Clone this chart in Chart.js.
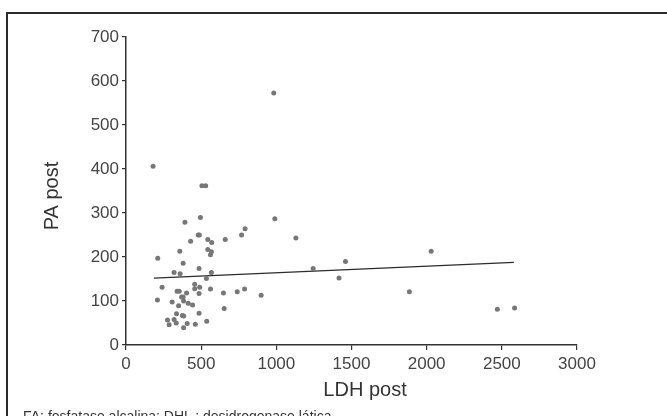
<!DOCTYPE html>
<html>
<head>
<meta charset="utf-8">
<script src="https://cdn.jsdelivr.net/npm/chart.js@4.4.1/dist/chart.umd.min.js"></script>
<style>
  html, body { margin: 0; padding: 0; background: #fff; overflow: hidden; }
  #wrap { position: relative; width: 667px; height: 416px; }
  #frame { position: absolute; left: 6px; top: 12px; width: 700px; height: 440px;
           border-left: 2px solid #2b2b2b; border-top: 2px solid #2b2b2b; }
  #note { position: absolute; left: 23px; top: 408px; white-space: nowrap;
          font: 14px/16px "Liberation Sans", Arial, sans-serif; color: #333; }
  canvas { position: absolute; left: 0; top: 0; }
</style>
</head>
<body>
<div id="wrap">
  <div id="frame"></div>
  <canvas id="chart" width="667" height="416"></canvas>
  <div id="note">FA: fosfatase alcalina; DHL : desidrogenase lática</div>
</div>
<script>
// values (LDH post vs PA post)
const ldhPost = [
  180, 505, 530, 392, 495, 990, 1130, 792, 769, 660,
  480, 488, 430, 544, 570, 358, 544, 568, 562, 211,
  380, 486, 320, 360, 568, 535, 1245, 240, 457, 457,
  490, 340, 354, 403, 486, 562, 648, 740, 789, 899,
  370, 380, 209, 307, 350, 383, 414, 443, 653, 276,
  287, 320, 334, 336, 375, 384, 407, 383, 461, 486,
  537, 983, 1417, 1460, 2030, 1885, 2470, 2585
];
const paPost = [
  406, 362, 362, 279, 290, 287, 243, 264, 250, 240,
  250, 250, 236, 240, 233, 213, 217, 212, 205, 197,
  186, 174, 165, 162, 165, 151, 174, 131, 138, 128,
  131, 122, 122, 118, 117, 127, 118, 121, 127, 113,
  109, 109, 102, 98, 89, 100, 95, 91, 83, 57,
  46, 58, 50, 71, 67, 66, 49, 39, 47, 72,
  54, 573, 152, 190, 213, 121, 81, 84
];
// fitted line end points
const trendX = [185, 2580];
const trendY = [152, 188];

const xTicks = [0, 500, 1000, 1500, 2000, 2500, 3000];
const yTicks = [0, 100, 200, 300, 400, 500, 600, 700];

const FONT = '"Liberation Sans", Arial, Helvetica, sans-serif';
const AXIS = '#333';

const axisTitles = {
  id: 'axisTitles',
  afterDraw(chart) {
    const ctx = chart.ctx;
    ctx.save();
    ctx.fillStyle = '#333';
    ctx.font = '20px ' + FONT;
    ctx.textAlign = 'center';
    ctx.textBaseline = 'alphabetic';
    ctx.fillText('LDH post', 365, 395.5);
    ctx.translate(57.5, 196);
    ctx.rotate(-Math.PI / 2);
    ctx.fillText('PA post', 0, 0);
    ctx.restore();
  }
};

const ctx = document.getElementById('chart').getContext('2d');
new Chart(ctx, {
  type: 'scatter',
  data: {
    datasets: [
      {
        label: 'PA post',
        data: ldhPost.map((x, i) => ({ x: x, y: paPost[i] })),
        pointRadius: 2.5,
        pointBorderWidth: 0,
        pointBackgroundColor: '#777',
        pointBorderColor: '#777'
      },
      {
        type: 'line',
        label: 'trend',
        data: trendX.map((x, i) => ({ x: x, y: trendY[i] })),
        borderColor: '#2b2b2b',
        borderWidth: 1.3,
        pointRadius: 0,
        fill: false
      }
    ]
  },
  options: {
    responsive: false,
    animation: false,
    layout: { padding: { left: 0, top: 37, right: 90, bottom: 0 } },
    plugins: { legend: { display: false }, tooltip: { enabled: false } },
    scales: {
      x: {
        type: 'linear',
        min: 0, max: 3000,
        afterFit(scale) { scale.height = 71; },
        afterBuildTicks(scale) { scale.ticks = xTicks.map(v => ({ value: v })); },
        grid: { drawOnChartArea: false, drawTicks: true, tickLength: 5, color: AXIS, lineWidth: 1.2 },
        border: { display: true, color: AXIS, width: 1.5 },
        ticks: {
          color: '#444', padding: 4, maxRotation: 0,
          font: { family: FONT, size: 17 },
          callback: v => String(v)
        }
      },
      y: {
        type: 'linear',
        min: 0, max: 700,
        afterFit(scale) { scale.width = 126; },
        afterBuildTicks(scale) { scale.ticks = yTicks.map(v => ({ value: v })); },
        grid: { drawOnChartArea: false, drawTicks: true, tickLength: 4, color: AXIS, lineWidth: 1.2 },
        border: { display: true, color: AXIS, width: 1.5 },
        ticks: {
          color: '#444', padding: 3,
          font: { family: FONT, size: 17 },
          callback: v => String(v)
        }
      }
    }
  },
  plugins: [axisTitles]
});
</script>
</body>
</html>
